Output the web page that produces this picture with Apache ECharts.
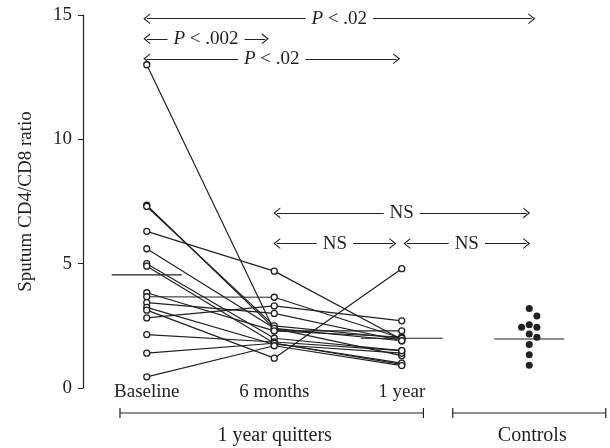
<!DOCTYPE html>
<html style="height: 100%">
<head>
    <meta charset="UTF-8">
    <script src="https://cdn.jsdelivr.net/npm/echarts@6/dist/echarts.min.js"></script>
</head>
<body style="margin: 0; background-color: #ffffff">
    <div id="paint" style="width: 610px; height: 448px;"></div>
<script>
    // categories and tick labels
    var categories = ['Baseline', '6 months', '1 year', 'Controls'];
    var yTicks = [0, 5, 10, 15];

    // 1 year quitters, one entry per subject
    var baseline  = [13.0, 7.35, 7.3, 6.3, 5.6, 5.0, 4.9, 3.83, 3.67, 3.43, 3.24, 3.13, 2.82, 2.15, 1.4, 0.45];
    var sixMonths = [2.3, 2.4, 2.5, 4.7, 2.4, 2.0, 1.8, 2.3, 3.65, 3.0, 1.75, 1.2, 3.3, 1.85, 1.8, 1.7];
    var oneYear   = [2.3, 1.9, 2.0, 1.95, 1.3, 1.5, 0.95, 2.05, 2.0, 1.9, 1.4, 4.8, 2.7, 1.5, 1.0, 0.9];

    // controls (value + small horizontal jitter)
    var controls       = [3.2, 2.9, 2.54, 2.44, 2.44, 2.17, 2.04, 1.75, 1.34, 0.91];
    var controlsJitter = [0, 0.06, 0, -0.06, 0.06, 0, 0.06, 0, 0, 0];

    // median bars: category index and value
    var medianAt  = [0, 2, 3];
    var medianVal = [4.55, 2.0, 1.97];

    // significance arrows
    var sigText = ['{i|P} < .02', '{i|P} < .002', '{i|P} < .02', 'NS', 'NS', 'NS'];
    var sigFrom = [0, 0, 0, 1.02, 1.02, 2.04];
    var sigTo   = [3.02, 0.93, 1.96, 2.98, 1.93, 2.98];
    var sigY    = [14.85, 14.04, 13.24, 7.04, 5.81, 5.81];

    var FONT = '"Liberation Serif", "DejaVu Serif", serif';
    var INK = '#231f20';
    var chevron = 'path://M0,10 L5,0 L10,10 L8.8,10 L5,2.6 L1.2,10 Z';

    var series = [];
    for (var i = 0; i < baseline.length; i++) {
        series.push({
            type: 'line',
            xAxisIndex: 1,
            data: [[0, baseline[i]], [1, sixMonths[i]], [2, oneYear[i]]],
            symbol: 'circle',
            symbolSize: 6,
            itemStyle: {color: '#ffffff', borderColor: INK, borderWidth: 1.3},
            lineStyle: {color: INK, width: 1.2},
            z: 3
        });
    }
    for (var m = 0; m < medianAt.length; m++) {
        var hw = medianAt[m] === 2 ? 0.32 : 0.275;
        series.push({
            type: 'line',
            xAxisIndex: 1,
            data: [[medianAt[m] - hw, medianVal[m]], [medianAt[m] + hw, medianVal[m]]],
            symbol: 'none',
            lineStyle: {color: INK, width: 1.2},
            z: 2
        });
    }
    var markData = [];
    for (var k = 0; k < sigText.length; k++) {
        markData.push([
            {coord: [sigFrom[k], sigY[k]], label: {formatter: sigText[k]}},
            {coord: [sigTo[k], sigY[k]]}
        ]);
    }
    series.push({
        type: 'scatter',
        xAxisIndex: 1,
        data: controls.map(function (v, j) { return [3 + controlsJitter[j], v]; }),
        symbol: 'circle',
        symbolSize: 7,
        itemStyle: {color: INK, opacity: 1},
        z: 4,
        markLine: {
            silent: true,
            symbol: [chevron, chevron],
            symbolSize: [11, 7],
            lineStyle: {color: INK, width: 1, type: 'solid'},
            label: {
                show: true,
                position: 'middle',
                verticalAlign: 'middle',
                distance: 0,
                color: INK,
                fontFamily: FONT,
                fontSize: 19,
                backgroundColor: '#ffffff',
                padding: [0, 6],
                rich: {i: {fontStyle: 'italic', fontFamily: FONT, fontSize: 19, color: INK}}
            },
            data: markData
        }
    });

    var chart = echarts.init(document.getElementById('paint'));
    chart.setOption({
        animation: false,
        backgroundColor: '#ffffff',
        grid: {left: 83, right: 17, top: 15, bottom: 60},
        xAxis: [
            {
                type: 'category',
                data: categories,
                boundaryGap: true,
                axisLine: {show: false},
                axisTick: {show: false},
                axisLabel: {
                    margin: -5,
                    fontFamily: FONT, fontSize: 19, color: INK,
                    formatter: function (v) { return v === 'Controls' ? '' : v; }
                }
            },
            {
                type: 'value',
                min: -0.5, max: 3.5,
                show: false
            }
        ],
        yAxis: {
            type: 'value',
            min: yTicks[0], max: yTicks[yTicks.length - 1], interval: 5,
            name: 'Sputum CD4/CD8 ratio',
            nameLocation: 'middle',
            nameGap: 47,
            nameTextStyle: {fontFamily: FONT, fontSize: 19, color: INK},
            axisLine: {show: true, onZero: false, lineStyle: {color: INK, width: 1.2}},
            axisTick: {show: true, length: 5, lineStyle: {color: INK}},
            axisLabel: {fontFamily: FONT, fontSize: 19, color: INK, margin: 11},
            splitLine: {show: false}
        },
        series: series
    });

    // group brackets under the axis, placed through the x scale
    var groups = [
        {name: '1 year quitters', from: -0.21, to: 2.17},
        {name: 'Controls', from: 2.4, to: 3.6}
    ];
    var bracketY = 413, gfx = [];
    groups.forEach(function (g) {
        var x1 = chart.convertToPixel({xAxisIndex: 1}, g.from);
        var x2 = chart.convertToPixel({xAxisIndex: 1}, g.to);
        var st = {stroke: INK, lineWidth: 1.2};
        gfx.push({type: 'line', shape: {x1: x1, y1: bracketY, x2: x2, y2: bracketY}, style: st});
        gfx.push({type: 'line', shape: {x1: x1, y1: bracketY - 5, x2: x1, y2: bracketY + 5}, style: st});
        gfx.push({type: 'line', shape: {x1: x2, y1: bracketY - 5, x2: x2, y2: bracketY + 5}, style: st});
        gfx.push({
            type: 'text', x: (x1 + x2) / 2 + 3, y: 436,
            style: {text: g.name, fill: INK, font: '20px ' + FONT, textAlign: 'center', textVerticalAlign: 'middle'}
        });
    });
    chart.setOption({graphic: gfx});
</script>
</body>
</html>
